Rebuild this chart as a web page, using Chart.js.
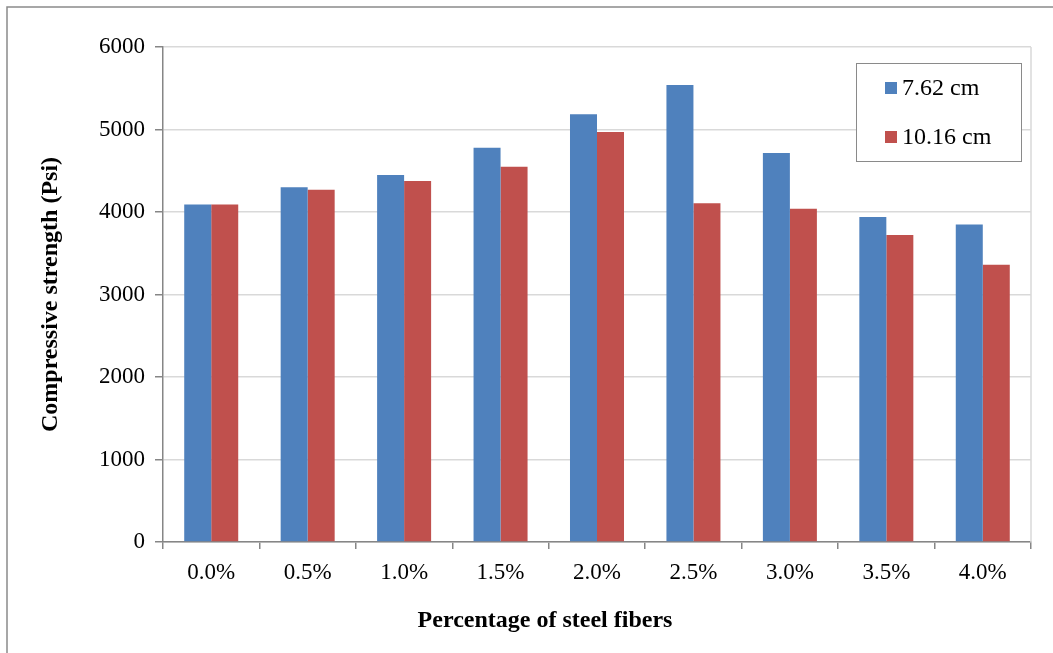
<!DOCTYPE html>
<html>
<head>
<meta charset="utf-8">
<script src="https://cdn.jsdelivr.net/npm/chart.js@4.4.0/dist/chart.umd.min.js"></script>
<style>
  html, body { margin: 0; padding: 0; background: #fff; }
  #wrap { width: 1053px; height: 653px; position: relative; }
</style>
</head>
<body>
<div id="wrap"><canvas id="barChart" width="1053" height="653"></canvas></div>
<script>
// data
let fiberLabels = ['0.0%', '0.5%', '1.0%', '1.5%', '2.0%', '2.5%', '3.0%', '3.5%', '4.0%'];
let strength762 = [4090, 4300, 4450, 4780, 5185, 5540, 4715, 3940, 3850];
let strength1016 = [4090, 4270, 4375, 4550, 4970, 4105, 4040, 3720, 3360];
let yTicks = [0, 1000, 2000, 3000, 4000, 5000, 6000];
let xTitle = 'Percentage of steel fibers';

let serif = '"Liberation Serif", "Times New Roman", serif';

// frame around the whole picture, right edge of plot, x title and the boxed legend
let framePlugin = {
    id: 'frame',
    afterDraw(chart) {
        let ctx = chart.ctx;
        let area = chart.chartArea;
        ctx.save();
        ctx.strokeStyle = '#8a8a8a';
        ctx.lineWidth = 1.5;
        ctx.strokeRect(7, 7, 1200, 800);

        ctx.strokeStyle = '#d9d9d9';
        ctx.lineWidth = 1.5;
        ctx.beginPath();
        ctx.moveTo(area.right, area.top);
        ctx.lineTo(area.right, area.bottom);
        ctx.stroke();

        // x axis title sits left of the plot centre in the original
        ctx.fillStyle = '#000';
        ctx.font = 'bold 24px ' + serif;
        ctx.textAlign = 'center';
        ctx.textBaseline = 'middle';
        ctx.fillText(xTitle, 545, 621);

        // legend box
        let bx = 856, by = 63, bw = 165, bh = 98;
        ctx.fillStyle = '#fff';
        ctx.fillRect(bx, by, bw, bh);
        ctx.strokeStyle = '#8a8a8a';
        ctx.lineWidth = 1;
        ctx.strokeRect(bx + 0.5, by + 0.5, bw, bh);
        ctx.font = '24px ' + serif;
        ctx.textAlign = 'left';
        chart.data.datasets.forEach((ds, i) => {
            let cy = 88 + i * 49;
            ctx.fillStyle = ds.backgroundColor;
            ctx.fillRect(885, cy - 6, 12, 12);
            ctx.fillStyle = '#000';
            ctx.fillText(ds.label, 902, cy + 1);
        });
        ctx.restore();
    }
};

let ctx = document.getElementById('barChart').getContext('2d');

let barChart = new Chart(ctx, {
    type: 'bar',
    data: {
        labels: fiberLabels,
        datasets: [
            {
                label: '7.62 cm',
                data: strength762,
                backgroundColor: '#4F81BD',
                borderWidth: 0
            },
            {
                label: '10.16 cm',
                data: strength1016,
                backgroundColor: '#C0504D',
                borderWidth: 0
            }
        ]
    },
    options: {
        responsive: false,
        animation: false,
        layout: { padding: { left: 36, right: 22, top: 47, bottom: 18 } },
        datasets: {
            bar: { categoryPercentage: 0.56, barPercentage: 1.0 }
        },
        plugins: {
            legend: { display: false },
            tooltip: { enabled: false }
        },
        scales: {
            x: {
                grid: {
                    offset: true,
                    drawOnChartArea: false,
                    tickLength: 7,
                    color: '#868686',
                    lineWidth: 1.5
                },
                border: { color: '#868686', width: 1.5 },
                ticks: {
                    color: '#000',
                    font: { family: serif, size: 23 },
                    padding: 10
                },
                afterFit(scale) { scale.height = 653 - 542 - 18; }
            },
            y: {
                min: 0,
                max: 6000,
                afterBuildTicks(scale) { scale.ticks = yTicks.map(v => ({ value: v })); },
                grid: {
                    color: '#d9d9d9',
                    lineWidth: 1.5,
                    tickColor: '#868686',
                    tickLength: 8
                },
                border: { color: '#868686', width: 1.5 },
                ticks: {
                    color: '#000',
                    font: { family: serif, size: 23 },
                    padding: 10,
                    callback: v => String(v)
                },
                title: {
                    display: true,
                    text: 'Compressive strength (Psi)',
                    color: '#000',
                    font: { family: serif, size: 24, weight: 'bold' },
                    padding: { top: 0, bottom: 0 }
                },
                afterFit(scale) { scale.width = 163 - 36; }
            }
        }
    },
    plugins: [framePlugin]
});
</script>
</body>
</html>
